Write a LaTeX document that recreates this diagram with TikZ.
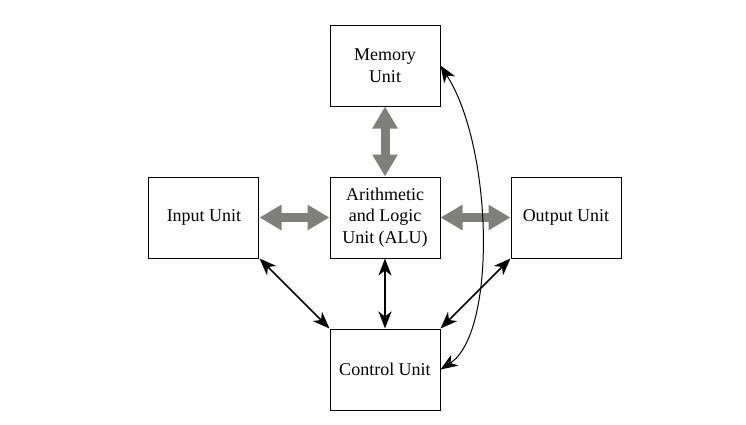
\documentclass[tikz,border=0pt]{standalone}
\usepackage{fontspec}
\setmainfont{Liberation Serif}
\usetikzlibrary{positioning, arrows.meta}
\definecolor{busgray}{RGB}{128,128,122}
\tikzset{
    unit/.style={draw, line width=1pt, minimum width=110pt, minimum height=81pt, align=center, font=\fontsize{18}{21.5}\selectfont}, % box of one unit
    node distance=70pt, % gap between two boxes
    bus/.style={busgray, line width=9pt, {Triangle[length=22pt,width=24pt]}-{Triangle[length=22pt,width=24pt]}}, % thick grey data path
    ctrl/.style={line width=1.6pt, {Stealth[length=17pt,width=13pt,inset=5pt]}-{Stealth[length=17pt,width=13pt,inset=5pt]}}, % control signal
}
\begin{document}
\begin{tikzpicture}
    \useasboundingbox (-385pt,-206.5pt) rectangle (361pt,217.5pt);
    \node[unit] (alu) at (0,0) {Arithmetic\\and Logic\\Unit (ALU)};
    \node[unit, above=of alu] (mem) {Memory\\Unit};
    \node[unit, left=of alu] (inp) {Input Unit};
    \node[unit, right=of alu] (out) {Output Unit};
    \node[unit, below=of alu] (ctl) {Control Unit};
    \draw[bus] (inp) -- (alu);
    \draw[bus] (alu) -- (out);
    \draw[bus] (mem) -- (alu);
    \draw[ctrl] (inp.south east) -- (ctl.north west);
    \draw[ctrl] (alu) -- (ctl);
    \draw[ctrl] (out.south west) -- (ctl.north east);
    \draw[ctrl, line width=1pt] (mem.east) .. controls (108pt,70pt) and (112pt,-115pt) .. (ctl.east);
\end{tikzpicture}
\end{document}
